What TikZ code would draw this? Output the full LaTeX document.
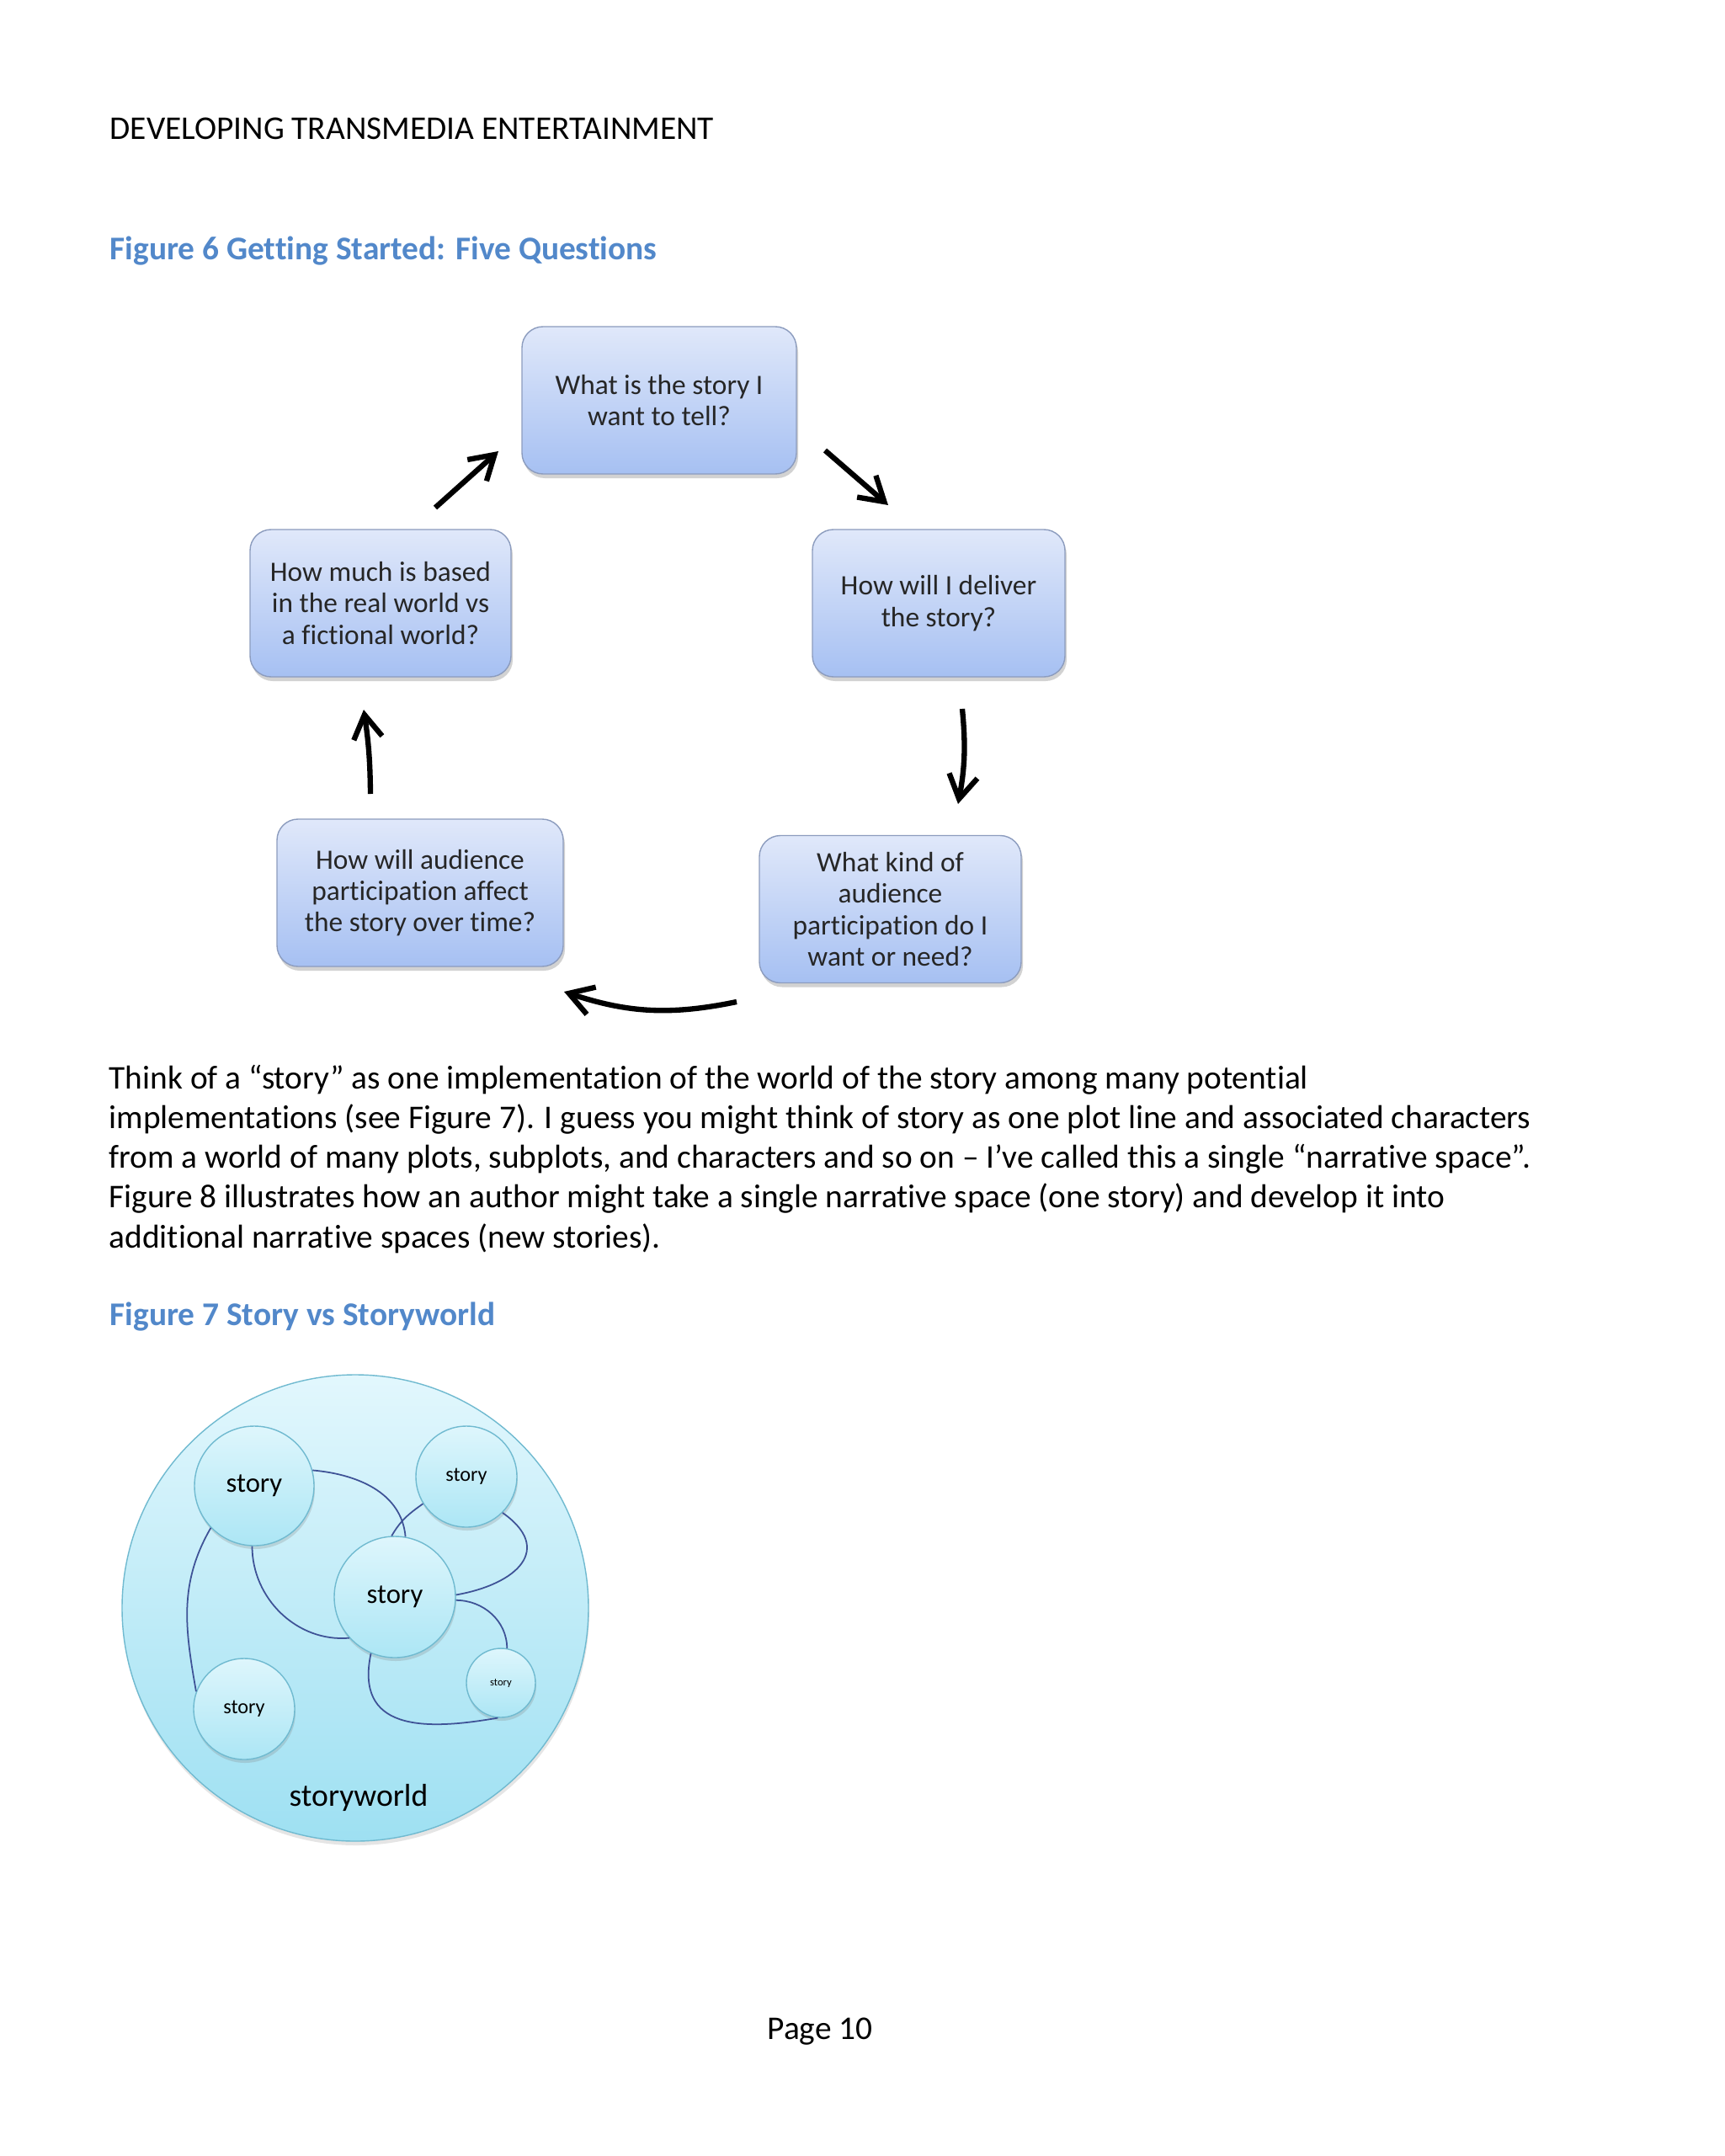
\documentclass[tikz,border=0pt]{standalone}
\usepackage{fontspec}
\setmainfont{Carlito}[Ligatures=NoCommon]
\usetikzlibrary{arrows.meta,shadows}

\definecolor{capblue}{RGB}{82,136,202}
\definecolor{boxtop}{RGB}{224,232,250}
\definecolor{boxbot}{RGB}{166,192,242}
\definecolor{boxline}{RGB}{140,156,190}
\definecolor{wldtop}{RGB}{226,247,253}
\definecolor{wldbot}{RGB}{158,224,242}
\definecolor{circtop}{RGB}{222,246,252}
\definecolor{circbot}{RGB}{172,230,245}
\definecolor{circline}{RGB}{112,186,208}
\definecolor{linkblue}{RGB}{62,82,150}

\begin{document}
\begin{tikzpicture}[
    question/.style={draw=boxline, rounded corners=0.25cm, top color=boxtop, bottom color=boxbot,
      minimum height=1.75cm, align=center, inner sep=0pt, text=black!85,
      font=\fontsize{9.5}{10.6}\selectfont,
      drop shadow={shadow xshift=0.02cm, shadow yshift=-0.05cm, opacity=0.35}},
    flow/.style={line width=1.8pt, -{Straight Barb[length=0.28cm,width=0.34cm]}},
    story/.style={circle, draw=circline, top color=circtop, bottom color=circbot, inner sep=0pt,
      drop shadow={shadow xshift=0.01cm, shadow yshift=-0.04cm, opacity=0.25}},
    link/.style={draw=linkblue, line width=0.5pt},
    bodytext/.style={anchor=base west, inner sep=0pt, font=\fontsize{11.2}{13.5}\selectfont}]

  \fill[white] (0,0) rectangle (20.48,-25.61);
  \useasboundingbox (0,0) rectangle (20.48,-25.61);

  \node[bodytext] (header) at (1.30,-1.66) {DEVELOPING TRANSMEDIA ENTERTAINMENT};
  \node[bodytext, text=capblue, font=\fontsize{11.2}{13.5}\selectfont\bfseries] (fig6) at (1.30,-3.09)
    {Figure 6 Getting Started: Five Questions};

  % five questions
  \node[question, minimum width=3.26cm] (q1) at (7.83,-4.755) {What is the story I\\want to tell?};
  \node[question, minimum width=3.00cm] (q2) at (11.15,-7.165) {How will I deliver\\the story?};
  \node[question, minimum width=3.11cm] (q3) at (10.575,-10.80)
    {What kind of\\audience\\participation do I\\want or need?};
  \node[question, minimum width=3.40cm] (q4) at (4.99,-10.605)
    {How will audience\\participation affect\\the story over time?};
  \node[question, minimum width=3.10cm] (q5) at (4.52,-7.165)
    {How much is based\\in the real world vs\\a fictional world?};

  \coordinate (c12s) at (9.80,-5.35);  \coordinate (c12e) at (10.55,-6.00);
  \coordinate (c23s) at (11.43,-8.42); \coordinate (c23e) at (11.38,-9.55);
  \coordinate (c34s) at (8.75,-11.90); \coordinate (c34e) at (6.70,-11.78);
  \coordinate (c45s) at (4.40,-9.43);  \coordinate (c45e) at (4.32,-8.43);
  \coordinate (c51s) at (5.17,-6.03);  \coordinate (c51e) at (5.92,-5.36);

  \draw[flow] (c12s) -- (c12e);
  \draw[flow] (c23s) to[bend left=8] (c23e);
  \draw[flow] (c34s) to[bend left=15] (c34e);
  \draw[flow] (c45s) to[bend right=4] (c45e);
  \draw[flow] (c51s) -- (c51e);

  % paragraph
  \foreach \txt [count=\i] in {
      {Think of a “story” as one implementation of the world of the story among many potential},
      {implementations (see Figure 7). I guess you might think of story as one plot line and associated characters},
      {from a world of many plots, subplots, and characters and so on – I’ve called this a single “narrative space”.},
      {Figure 8 illustrates how an author might take a single narrative space (one story) and develop it into},
      {additional narrative spaces (new stories).}}
    \node[bodytext] (line\i) at (1.29,{-12.93-0.473*(\i-1)}) {\txt};

  \node[bodytext, text=capblue, font=\fontsize{11.2}{13.5}\selectfont\bfseries] (fig7) at (1.30,-15.74)
    {Figure 7 Story vs Storyworld};

  % storyworld
  \node[circle, minimum size=5.54cm, draw=circline, top color=wldtop, bottom color=wldbot,
    drop shadow={shadow xshift=0.01cm, shadow yshift=-0.05cm, opacity=0.2}] (world) at (4.22,-19.10) {};
  \node[font=\fontsize{10.7}{12}\selectfont] (worldtext) at (4.26,-21.35) {storyworld};

  \node[story, minimum size=1.42cm, font=\fontsize{9.3}{11}\selectfont] (s1) at (3.02,-17.65) {story};
  \node[story, minimum size=1.20cm, font=\fontsize{6.9}{8}\selectfont] (s2) at (5.54,-17.54) {story};
  \node[story, minimum size=1.44cm, font=\fontsize{9.3}{11}\selectfont] (s3) at (4.69,-18.97) {story};
  \node[story, minimum size=1.20cm, font=\fontsize{6.9}{8}\selectfont] (s4) at (2.90,-20.30) {story};
  \node[story, minimum size=0.82cm, font=\fontsize{3.6}{4}\selectfont] (s5) at (5.95,-19.99) {story};

  \draw[link] (s1.15) to[out=-5, in=95] (s3.80);
  \draw[link] (s1.-92) to[out=-90, in=185] (s3.222);
  \draw[link] (s1.224) to[out=240, in=100] (s4.160);
  \draw[link] (s3.93) to[out=60, in=215] (s2.212);
  \draw[link] (s2.-45) to[out=-35, in=10, looseness=1.7] (s3.2);
  \draw[link] (s3.-3) to[out=0, in=90] (s5.80);
  \draw[link] (s3.247) to[out=258, in=190, looseness=1.4] (s5.265);

  \node[anchor=base, inner sep=0pt, font=\fontsize{11.2}{13.5}\selectfont] (page) at (9.74,-24.22) {Page 10};
\end{tikzpicture}
\end{document}
